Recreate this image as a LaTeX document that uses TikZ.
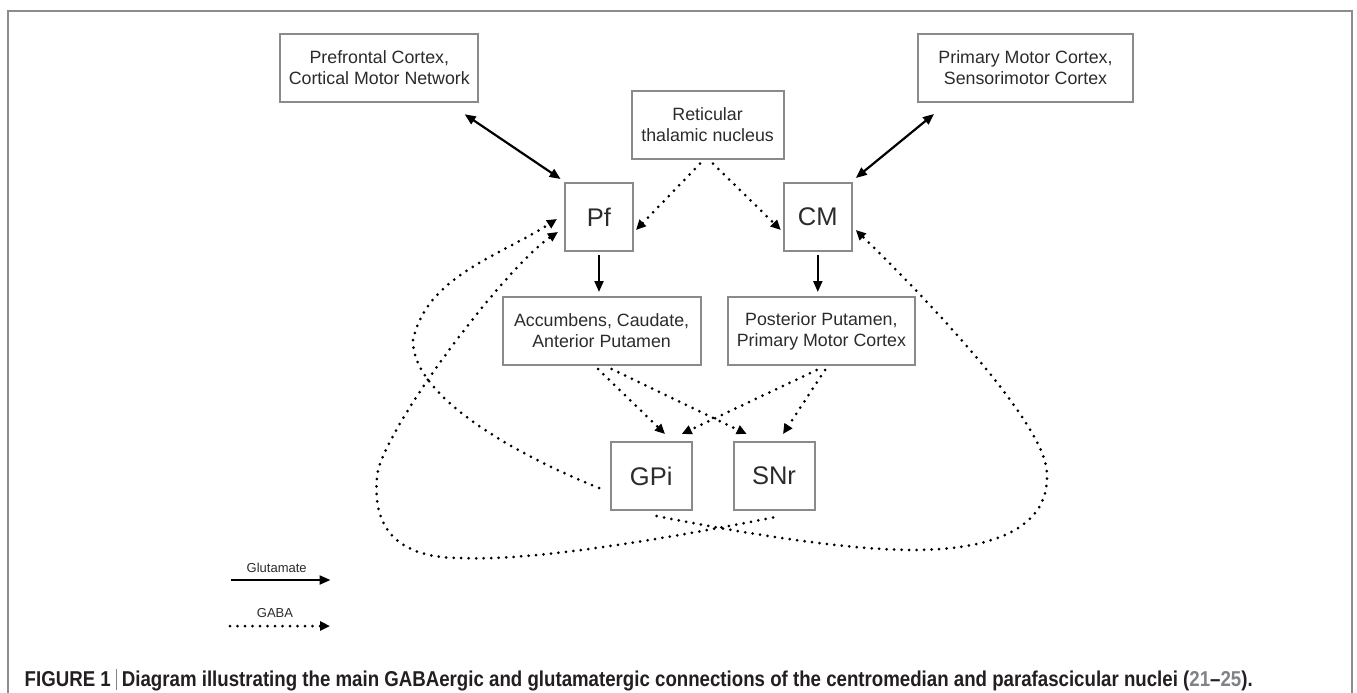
\documentclass[tikz,border=0pt]{standalone}
\usepackage{fontspec}
\setmainfont{Liberation Sans}
\usetikzlibrary{arrows.meta,calc}
\definecolor{boxgray}{HTML}{8A8A8A}
\definecolor{framegray}{HTML}{8C8C8C}
\definecolor{txt}{HTML}{2B2B2B}
\definecolor{captext}{HTML}{231F20}
\definecolor{refgray}{HTML}{808285}
\newsavebox\capbox
\begin{document}
\begin{tikzpicture}[x=1pt,y=-1pt,
  box/.style={draw=boxgray, line width=2pt, inner sep=0pt, minimum height=68pt, align=center, text=txt, font=\fontsize{17.8}{21}\selectfont},
  nuc/.style={box, minimum width=68pt, font=\fontsize{25.5}{30}\selectfont},
  glu/.style={line width=2.2pt, -{Triangle[length=11pt,width=9pt]}},
  glubi/.style={line width=2.2pt, {Triangle[length=11pt,width=9pt]}-{Triangle[length=11pt,width=9pt]}},
  gaba/.style={line width=3pt, line cap=round, dash pattern=on 0pt off 7.5pt, -{Triangle[length=10pt,width=9pt]}},
  legtext/.style={text=txt, font=\fontsize{13}{15}\selectfont, inner sep=0pt}
]
\useasboundingbox (0,0) rectangle (1357,693);
\draw[framegray, line width=1.5pt] (8,700) -- (8,11) -- (1352,11) -- (1352,700);

\node[box, minimum width=198pt] (pfc) at (379.3,68) {Prefrontal Cortex,\\Cortical Motor Network};
\node[box, minimum width=215pt] (pmc) at (1025.5,68) {Primary Motor Cortex,\\Sensorimotor Cortex};
\node[box, minimum width=152pt] (rtn) at (707.6,125) {Reticular\\thalamic nucleus};
\node[nuc] (pf) at (599,217) {Pf};
\node[nuc] (cm) at (817.8,217) {CM};
\node[box, minimum width=198pt] (acc) at (601.6,331) {Accumbens, Caudate,\\Anterior Putamen};
\node[box, minimum width=187pt] (pp) at (821.4,331) {Posterior Putamen,\\Primary Motor Cortex};
\node[nuc, minimum width=81pt] (gpi) at (651.2,476) {GPi};
\node[nuc, minimum width=81pt] (snr) at (774,476) {SNr};

\draw[glubi] ($(pfc.south east)+(-14.6,11.3)$) -- ($(pf.north west)+(-3.4,-3)$);
\draw[glubi] ($(pmc.south west)+(17,11)$) -- ($(cm.north east)+(3,-4)$);
\draw[gaba] ($(rtn.south)+(-7.6,3.7)$) -- ($(pf.east)+(2,13)$);
\draw[gaba] ($(rtn.south)+(5.4,3.7)$) -- ($(cm.west)+(-2,13)$);
\draw[glu] ($(pf.south)+(0,3)$) -- ($(pf.south |- acc.north)+(0,-4)$);
\draw[glu] ($(cm.south)+(0,3)$) -- ($(cm.south |- pp.north)+(0,-4)$);

\draw[gaba] ($(acc.south)+(-3.6,3)$) -- ($(gpi.north)+(13.8,-7)$);
\draw[gaba] ($(acc.south)+(10,3)$) -- ($(snr.north)+(-27.3,-7)$);
\draw[gaba] ($(pp.south)+(-4.7,4)$) -- ($(gpi.north)+(30.5,-7)$);
\draw[gaba] ($(pp.south)+(3.6,4)$) -- ($(snr.north)+(9,-7)$);

\draw[gaba] ($(gpi.west)+(-10.7,12)$) .. controls (510,452) and (412,395) .. (413,340)
  .. controls (426.7,276.3) and (498.8,256.4) .. ($(pf.west)+(-7,2)$);
\draw[gaba] ($(snr.south)+(-1,6.5)$) .. controls (700,532) and (540,562) .. (460,558)
  .. controls (400,558) and (369,530) .. (378,470)
  .. controls (394.8,412.4) and (508.6,265) .. ($(pf.west)+(-6,15)$);
\draw[gaba] ($(gpi.south)+(5.5,5)$) .. controls (734.9,531.8) and (843,550) .. (913,550)
  .. controls (998,550) and (1052,525) .. (1046.7,470)
  .. controls (1041.7,420) and (927,299) .. ($(cm.east)+(3,13)$);

\node[legtext] (glut) at (276.7,568) {Glutamate};
\coordinate (g1) at (230.5,580);
\coordinate (g2) at (330.5,580);
\draw[glu] (g1) -- (g2);
\node[legtext] (gabat) at (275,613) {GABA};
\coordinate (b1) at (230,626);
\coordinate (b2) at (330,626);
\draw[gaba] (b1) -- (b2);

\node[anchor=base west, inner sep=0pt, text=captext] (cap) at (24.5,686) {\sbox\capbox{\fontsize{21.5}{25}\selectfont\bfseries FIGURE 1 \textcolor{refgray}{\rule[-4pt]{0.9pt}{21pt}} Diagram illustrating the main GABAergic and glutamatergic connections of the centromedian and parafascicular nuclei (\textcolor{refgray}{21}–\textcolor{refgray}{25}).}\resizebox{1228pt}{\ht\capbox}{\usebox\capbox}};
\end{tikzpicture}
\end{document}
